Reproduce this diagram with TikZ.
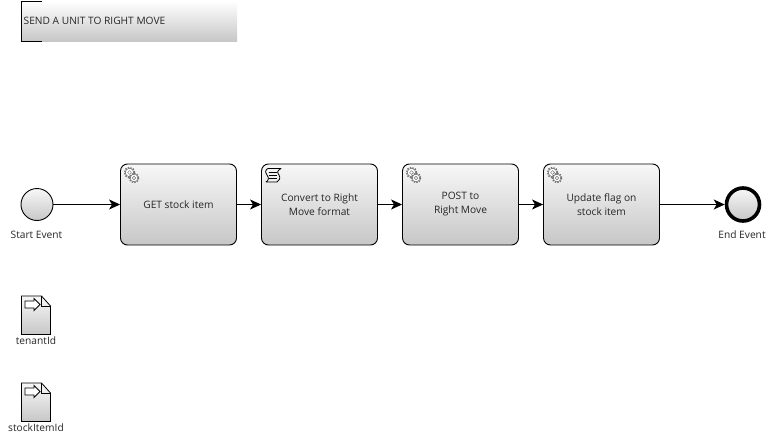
\documentclass[tikz,border=0pt]{standalone}
\usepackage{fontspec}
\setmainfont{Open Sans}
\usetikzlibrary{arrows.meta,positioning}

\definecolor{bpmntop}{gray}{0.97}
\definecolor{bpmnbottom}{gray}{0.78}
\definecolor{geargray}{gray}{0.45}

% one cogwheel of the service icon
\newcommand{\cogwheel}[3]{
  \draw[geargray, line width=0.6pt, fill=white]
    \foreach \a in {0,45,...,315} {
      (#1,#2) ++(\a-14:#3) -- ++(\a-8:#3*0.3) -- ++(\a+8:#3*0.3) -- ($(0,0)$)
    };
}

\tikzset{
  every node/.style = {font=\fontsize{10.2}{14}\selectfont, text=black!85},
  task/.style = {
    draw,
    line width = 0.9pt,
    rounded corners = 7pt,
    top color = bpmntop,
    bottom color = bpmnbottom,
    minimum width = 116pt,
    minimum height = 81pt,
    align = center,
    inner sep = 0pt
  },
  event/.style = {
    draw,
    circle,
    top color = bpmntop,
    bottom color = bpmnbottom,
    inner sep = 0pt
  },
  flow/.style = {
    line width = 0.9pt,
    -{Stealth[length=11pt,width=10pt,inset=3pt]}
  },
  dataobj/.style = {
    line width = 0.8pt,
    draw,
    top color = bpmntop,
    bottom color = bpmnbottom
  },
  tag/.style = {inner sep = 0pt}
}

\begin{document}
\begin{tikzpicture}[x=1pt, y=-1pt]
  \useasboundingbox (0,0) rectangle (773,444);

  % annotation
  \node[tag, anchor=north west, minimum width=216pt, minimum height=40pt,
    top color=white, bottom color=bpmnbottom] (note) at (21,1) {};
  \node[tag, anchor=west] (notetext) at (23.5,20.5) {SEND A UNIT TO RIGHT MOVE};
  \draw[line width=0.9pt] (42,1) -- (21.5,1) -- (21.5,41) -- (42,41);

  % events
  \node[event, line width=0.9pt, minimum size=32pt] (start) at (37,204.5) {};
  \node[anchor=north, tag] (startlabel) at (36.5,231) {Start Event};
  \node[event, line width=3.6pt, minimum size=33pt] (end) at (743,204.5) {};
  \node[anchor=north, tag] (endlabel) at (742,231) {End Event};

  % tasks
  \node[task] (get) at (178.5,204.5) {GET stock item};
  \node[task] (convert) at (319.5,204.5) {Convert to Right\\Move format};
  \node[task] (post) at (460.5,204.5) {POST to\\Right Move};
  \node[task] (update) at (601.5,204.5) {Update flag on\\stock item};

  % flows
  \draw[flow] (start) -- (get);
  \draw[flow] (get) -- (convert);
  \draw[flow] (convert) -- (post);
  \draw[flow] (post) -- (update);
  \draw[flow] (update) -- (end);

  % service icons
  \foreach \x in {129.5,411.5,552.5} {
    \foreach \dx/\dy/\r in {0/0/4.2,4.5/5.5/3.8} {
      \draw[geargray, line width=1.7pt, dash pattern=on 1.4pt off 1.2pt]
        (\x+\dx,172.5+\dy) circle (\r+0.7);
      \draw[geargray, line width=0.5pt, fill=white]
        (\x+\dx,172.5+\dy) circle (\r);
      \draw[geargray, line width=0.5pt] (\x+\dx,172.5+\dy) circle (\r*0.45);
    }
  }

  % script icon
  \draw[line width=0.8pt, line join=round]
    (268,168.5) -- (281,168.5)
    .. controls (277,171) and (277,172) .. (279,175)
    .. controls (281,178) and (279,181) .. (277,182)
    -- (266,182)
    .. controls (269,180) and (269,178) .. (267,175)
    .. controls (265,172) and (265,170) .. (268,168.5);
  \foreach \y in {172,175,178}
    \draw[line width=0.7pt] (268.5,\y) -- (276.5,\y);

  % data objects
  \foreach \name/\ytop/\txt in {tenant/296/tenantId, stock/383/stockItemId} {
    \draw[dataobj] (21.5,\ytop) -- (41.5,\ytop) -- (50.5,\ytop+10) -- (50.5,\ytop+38.5)
      -- (21.5,\ytop+38.5) -- cycle;
    \draw[line width=0.7pt] (41.5,\ytop) -- (41.5,\ytop+10) -- (50.5,\ytop+10);
    \draw[line width=0.9pt, fill=white] (25,\ytop+5) -- (34,\ytop+5) -- (34,\ytop+2.5)
      -- (40,\ytop+8.5) -- (34,\ytop+14.5) -- (34,\ytop+12) -- (25,\ytop+12) -- cycle;
    \node[anchor=north, tag] (\name) at (36,\ytop+41) {\txt};
  }
\end{tikzpicture}
\end{document}
